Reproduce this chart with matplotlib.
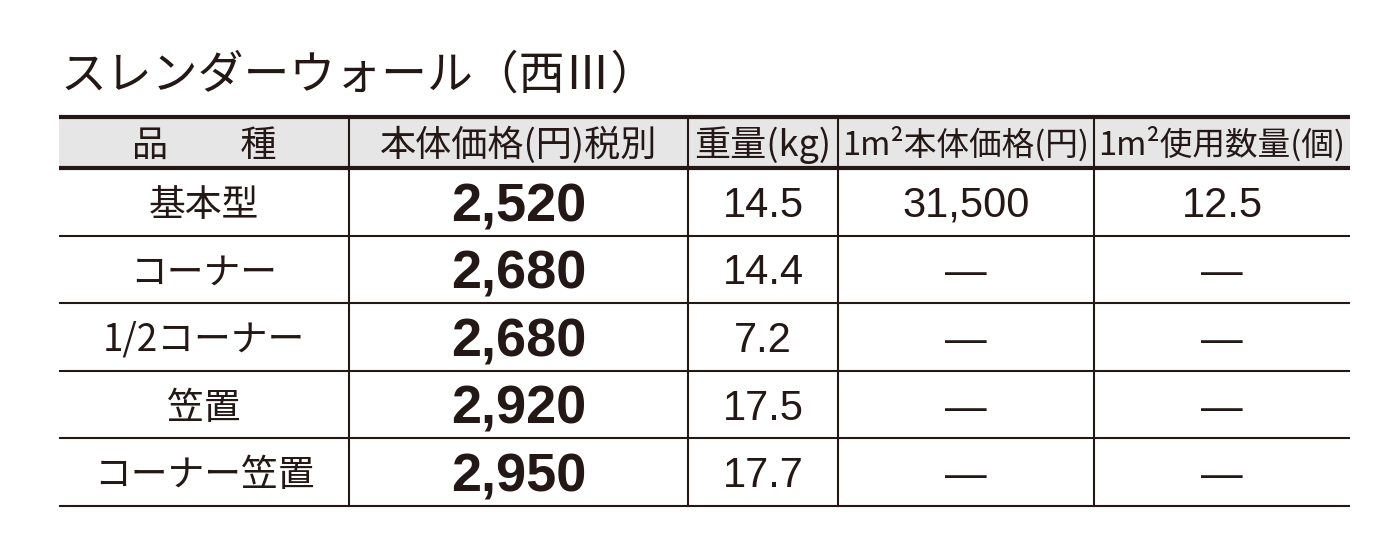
import matplotlib
matplotlib.use('Agg')
import matplotlib.pyplot as plt

# table contents
title = "スレンダーウォール（西Ⅲ）"
headers = ["品　　種", "本体価格(円)税別", "重量(kg)", "1m²本体価格(円)", "1m²使用数量(個)"]
header_sizes = [26, 26, 26, 23.5, 23.5]
products = ["基本型", "コーナー", "1/2コーナー", "笠置", "コーナー笠置"]
prices = [2520, 2680, 2680, 2920, 2950]
weights = [14.5, 14.4, 7.2, 17.5, 17.7]
m2_prices = [31500, None, None, None, None]
m2_counts = [12.5, None, None, None, None]

INK = '#231815'
HEAD_BG = '#e6e6e6'
JP = ['Noto Sans CJK JP', 'DejaVu Sans']
NUM = ['Liberation Sans', 'DejaVu Sans']

# layout in pixels
col_edges = [59, 349, 688, 838, 1094, 1350]
top, head_bottom = 117, 168
row_h = (506 - head_bottom) / len(products)

fig = plt.figure(figsize=(13.96, 5.48), dpi=100)
ax = fig.add_axes([0, 0, 1, 1])
ax.set_xlim(0, 1396)
ax.set_ylim(548, 0)
ax.axis('off')

ax.text(60, 89, title, family=JP, fontsize=33, color=INK, va='baseline', ha='left')

# header band
ax.fill_between([col_edges[0], col_edges[-1]], top, head_bottom, color=HEAD_BG, lw=0)
ax.hlines([top, head_bottom], col_edges[0], col_edges[-1], color=INK, lw=3)
row_lines = [head_bottom + row_h * (i + 1) for i in range(len(products))]
ax.hlines(row_lines, col_edges[0], col_edges[-1], color=INK, lw=1.5)
ax.vlines(col_edges[1:-1], top, row_lines[-1], color=INK, lw=1.5)

centers = [(a + b) / 2 for a, b in zip(col_edges[:-1], col_edges[1:])]
head_mid = (top + head_bottom) / 2
for cx, h, fs in zip(centers, headers, header_sizes):
    ax.text(cx, head_mid + 0.38 * fs * 100 / 72, h, family=JP, fontsize=fs, color=INK,
            ha='center', va='baseline')


def cell(cx, cy, s, fam, size, weight='normal', cjk=False):
    em = size * 100 / 72
    off = 0.38 * em if cjk else 0.358 * em
    ax.text(cx, cy + off, s, family=fam, fontsize=size, fontweight=weight,
            color=INK, ha='center', va='baseline')


for i in range(len(products)):
    cy = head_bottom + row_h * (i + 0.5)
    cell(centers[0], cy, products[i], JP, 26.5, cjk=True)
    cell(centers[1], cy, f"{prices[i]:,}", NUM, 39, weight='bold')
    cell(centers[2], cy, f"{weights[i]:.1f}", NUM, 30)
    p = m2_prices[i]
    cell(centers[3], cy, f"{p:,}" if p is not None else "—", NUM, 30)
    c = m2_counts[i]
    cell(centers[4], cy, f"{c:.1f}" if c is not None else "—", NUM, 30)

fig.savefig('out.png', dpi=100)
